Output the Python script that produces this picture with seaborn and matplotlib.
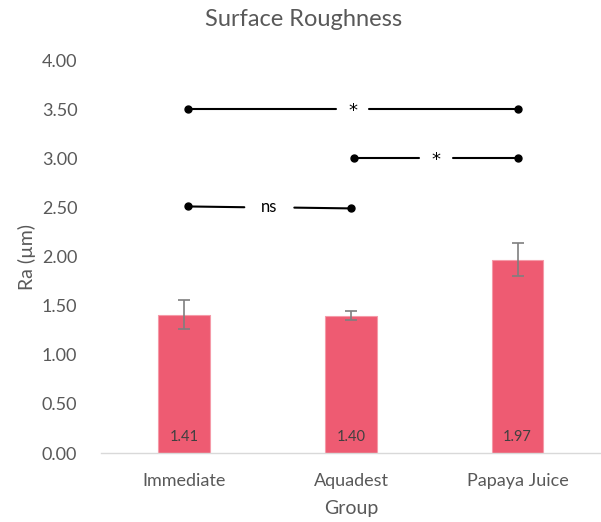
import matplotlib
matplotlib.use("Agg")
import matplotlib.pyplot as plt
import seaborn as sns
import pandas as pd

groups = ["Immediate", "Aquadest", "Papaya Juice"]
ra_means = [1.41, 1.40, 1.97]
ra_errors = [0.15, 0.05, 0.17]
value_labels = ["1.41", "1.40", "1.97"]
yticks = [0.0, 0.5, 1.0, 1.5, 2.0, 2.5, 3.0, 3.5, 4.0]

# significance comparisons: (left group idx, right group idx, left y, right y, label)
comp_left = [0, 1, 0]
comp_right = [2, 2, 1]
comp_yleft = [3.50, 3.00, 2.51]
comp_yright = [3.50, 3.00, 2.49]
comp_label = ["*", "*", "ns"]

sns.set_theme(style="white")
plt.rcParams['font.family'] = ['Lato', 'DejaVu Sans']

df = pd.DataFrame({"Group": groups, "Ra": ra_means})

fig = plt.figure(figsize=(6.01, 5.22), dpi=100)
ax = fig.add_axes([0.168, 0.132, 0.832, 0.753])

bar_color = "#EE5B72"
sns.barplot(data=df, x="Group", y="Ra", color=bar_color, width=0.31,
            saturation=1, ax=ax, errorbar=None)
for p in ax.patches:
    p.set_edgecolor("#F59AA8")
    p.set_linewidth(0.8)

ax.errorbar(range(len(groups)), ra_means, yerr=ra_errors, fmt="none",
            ecolor="#7F7F7F", elinewidth=1.2, capsize=4, capthick=1.2, zorder=5)

for i, lab in enumerate(value_labels):
    ax.text(i, 0.16, lab, ha="center", va="center", fontsize=10.5, color="#404040")

# significance lines
for l, r, yl, yr, lab in zip(comp_left, comp_right, comp_yleft, comp_yright, comp_label):
    xl, xr = l + 0.02, r
    xm = (xl + xr) / 2
    gap = 0.15 if lab == "ns" else 0.1
    ym = (yl + yr) / 2
    ax.plot([xl, xm - gap], [yl, ym + (yl - yr) * 0.1], color="black", lw=1.5, zorder=4)
    ax.plot([xm + gap, xr], [ym - (yl - yr) * 0.1, yr], color="black", lw=1.5, zorder=4)
    ax.plot([xl, xr], [yl, yr], "o", color="black", ms=5, zorder=4)
    if lab == "ns":
        ax.text(xm, ym, lab, ha="center", va="center", fontsize=12, color="black")
    else:
        ax.text(xm, ym - 0.02, lab, ha="center", va="center", fontsize=13,
                color="black", family="DejaVu Sans")

ax.set_ylim(0, 4.0)
ax.set_xlim(-0.5, 2.5)
ax.set_yticks(yticks)
ax.set_yticklabels([f"{v:.2f}" for v in yticks])
ax.tick_params(axis="both", colors="#595959", labelsize=13, length=0)
ax.tick_params(axis="y", pad=17)
ax.tick_params(axis="x", pad=14)
for s in ["top", "right", "left"]:
    ax.spines[s].set_visible(False)
ax.spines["bottom"].set_color("#D9D9D9")
ax.spines["bottom"].set_linewidth(1)

ax.set_xlabel("Group", fontsize=14, color="#595959", labelpad=8)
ax.set_ylabel("Ra (µm)", fontsize=14, color="#595959", labelpad=4)
fig.text(0.505, 0.962, "Surface Roughness", ha="center", va="center",
         fontsize=17, color="#595959")

fig.savefig("out.png", dpi=100)
